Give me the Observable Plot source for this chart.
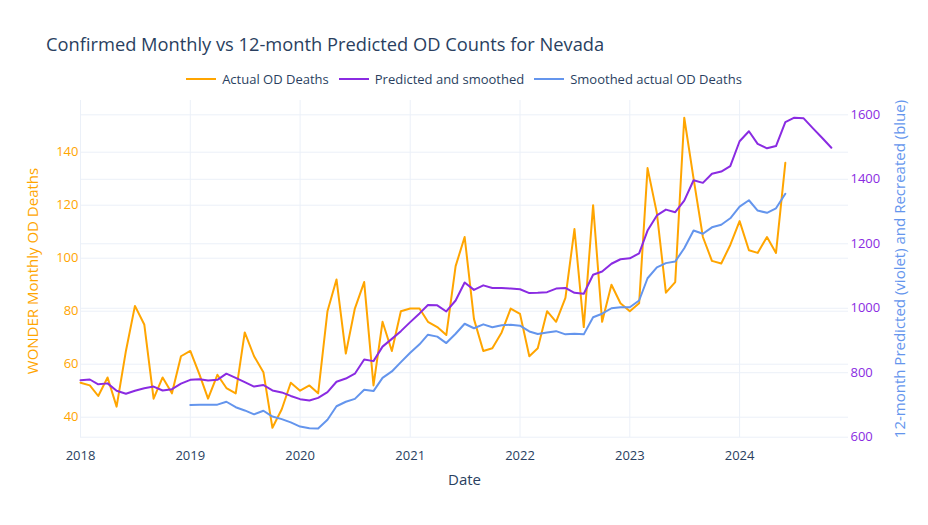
<!DOCTYPE html>
<html>
<head>
<meta charset="utf-8">
<script src="https://cdn.jsdelivr.net/npm/d3@7"></script>
<script src="https://cdn.jsdelivr.net/npm/@observablehq/plot@0.6"></script>
<style>
  body { margin: 0; background: #fff; font-family: "Open Sans", sans-serif; }
  #wrap { position: relative; width: 928px; height: 525px; }
  #title { position: absolute; left: 46px; top: 31px; font-size: 18.3px; color: #2a3f5f; white-space: nowrap; }
  #legend { position: absolute; left: 0; top: 70px; width: 928px; display: flex; justify-content: center; font-size: 13px; color: #2a3f5f; }
  .item { display: flex; align-items: center; margin: 0 5px; }
  .sw { width: 30px; height: 2px; margin-right: 6px; }
  #chart { position: absolute; left: 0; top: 0; }
</style>
</head>
<body>
<div id="wrap">
  <div id="chart"></div>
  <div id="title">Confirmed Monthly vs 12-month Predicted OD Counts for Nevada</div>
  <div id="legend"></div>
</div>
<script>
// ---- data (monthly, starting Jan 2018) ----
const startMonth = "2018-01-01";
const actualDeaths = [
  53, 52, 48, 55, 44, 65, 82, 75, 47, 55, 49, 63,
  65, 56, 47, 56, 51, 49, 72, 63, 57, 36, 43, 53,
  50, 52, 49, 80, 92, 64, 81, 91, 52, 76, 65, 80,
  81, 81, 76, 74, 71, 97, 108, 77, 65, 66, 72, 81,
  79, 63, 66, 80, 76, 85, 111, 74, 120, 76, 90, 83,
  80, 83, 134, 117, 87, 91, 153, 130, 108, 99, 98, 105,
  114, 103, 102, 108, 102, 136
];
const predictedSmoothed = [
  777, 779, 764, 767, 744, 735, 744, 752, 757, 745, 749, 766,
  778, 780, 776, 778, 797, 784, 771, 757, 762, 745, 739, 728,
  718, 714, 722, 740, 772, 782, 797, 841, 836, 881, 905, 929,
  957, 984, 1010, 1009, 990, 1024, 1080, 1057, 1071, 1063, 1063, 1061,
  1059, 1047, 1048, 1050, 1061, 1063, 1048, 1045, 1104, 1114, 1138, 1152,
  1155, 1170, 1241, 1288, 1306, 1298, 1334, 1397, 1389, 1417, 1424, 1441,
  1518, 1549, 1510, 1496, 1503, 1577, 1591, 1589, 1558, 1529, 1498
];
const smoothedStartMonth = "2019-01-01";
const smoothedActual = [
  700, 701, 701, 701, 710, 693, 683, 671, 682, 664, 656, 646,
  633, 628, 627, 654, 696, 710, 719, 747, 743, 784, 804, 833,
  862, 888, 918, 912, 892, 921, 952, 938, 950, 941, 947, 949,
  946, 928, 920, 925, 929, 919, 921, 919, 972, 983, 1000, 1003,
  1003, 1024, 1093, 1127, 1140, 1145, 1186, 1241, 1231, 1251, 1259, 1279,
  1315, 1335, 1303, 1296, 1310, 1355
];
const leftTicks = [40, 60, 80, 100, 120, 140];
const rightTicks = [600, 800, 1000, 1200, 1400, 1600];
const yearTicks = ["2018", "2019", "2020", "2021", "2022", "2023", "2024"];
const seriesNames = ["Actual OD Deaths", "Predicted and smoothed", "Smoothed actual OD Deaths"];
const seriesColors = ["orange", "blueviolet", "cornflowerblue"];
const leftDomain = [32.34, 159.51];
const rightDomain = [599.1, 1644.4];
const xDomain = ["2018-01-01", "2024-12-28"];

// ---- build tables ----
const monthOf = (start, i) => d3.utcMonth.offset(new Date(start), i);
const toLeft = r => leftDomain[0] + (r - rightDomain[0]) * (leftDomain[1] - leftDomain[0]) / (rightDomain[1] - rightDomain[0]);
const fromLeft = l => rightDomain[0] + (l - leftDomain[0]) * (rightDomain[1] - rightDomain[0]) / (leftDomain[1] - leftDomain[0]);

const actual = actualDeaths.map((v, i) => ({date: monthOf(startMonth, i), v}));
const pred = predictedSmoothed.map((v, i) => ({date: monthOf(startMonth, i), v: toLeft(v)}));
const smooth = smoothedActual.map((v, i) => ({date: monthOf(smoothedStartMonth, i), v: toLeft(v)}));

const grid = "#EBF0F8";
const textColor = "#2a3f5f";

const plot = Plot.plot({
  width: 928,
  height: 525,
  marginTop: 100,
  marginBottom: 88,
  marginLeft: 80,
  marginRight: 80,
  style: {fontFamily: "'Open Sans', sans-serif", fontSize: "13px", background: "white"},
  x: {type: "utc", domain: xDomain.map(d => new Date(d))},
  y: {domain: leftDomain},
  marks: [
    Plot.gridX(yearTicks.map(d => new Date(d + "-01-01")), {stroke: grid, strokeOpacity: 1, strokeWidth: 1}),
    Plot.gridY(leftTicks, {stroke: grid, strokeOpacity: 1, strokeWidth: 1}),
    Plot.gridY(rightTicks.map(toLeft), {stroke: grid, strokeOpacity: 1, strokeWidth: 1}),
    Plot.axisX(yearTicks.map(d => new Date(d + "-01-01")), {tickSize: 0, tickPadding: 13, tickFormat: d3.utcFormat("%Y"), label: null, fill: textColor, fontSize: 13}),
    Plot.axisY(leftTicks, {anchor: "left", tickSize: 0, tickPadding: 2, label: null, fill: "orange", fontSize: 13}),
    Plot.axisY(rightTicks.map(toLeft), {anchor: "right", tickSize: 0, tickPadding: 2, label: null, fill: "blueviolet", fontSize: 13, tickFormat: d => String(Math.round(fromLeft(d)))}),
    Plot.lineY(actual, {x: "date", y: "v", stroke: seriesColors[0], strokeWidth: 2}),
    Plot.lineY(pred, {x: "date", y: "v", stroke: seriesColors[1], strokeWidth: 2}),
    Plot.lineY(smooth, {x: "date", y: "v", stroke: seriesColors[2], strokeWidth: 2}),
    Plot.text([0], {text: () => "WONDER Monthly OD Deaths", frameAnchor: "left", textAnchor: "middle", dx: -47, dy: 2, rotate: -90, fill: "orange", fontSize: 15}),
    Plot.text([0], {text: () => "12-month Predicted (violet) and Recreated (blue)", frameAnchor: "right", textAnchor: "middle", dx: 52, rotate: -90, fill: "cornflowerblue", fontSize: 15}),
    Plot.text([0], {text: () => "Date", frameAnchor: "bottom", dy: 47, fill: textColor, fontSize: 15})
  ]
});
document.getElementById("chart").appendChild(plot);

const legend = document.getElementById("legend");
seriesNames.forEach((name, i) => {
  const it = document.createElement("div");
  it.className = "item";
  const sw = document.createElement("div");
  sw.className = "sw";
  sw.style.background = seriesColors[i];
  const t = document.createElement("span");
  t.textContent = name;
  it.appendChild(sw);
  it.appendChild(t);
  legend.appendChild(it);
});
</script>
</body>
</html>
